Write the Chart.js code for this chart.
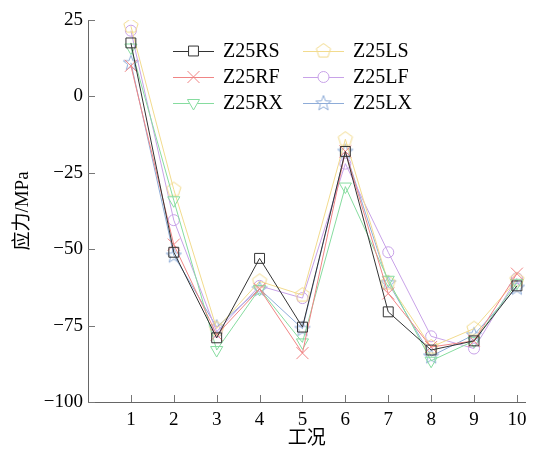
<!DOCTYPE html>
<html>
<head>
<meta charset="utf-8">
<script src="https://cdn.jsdelivr.net/npm/chart.js@4"></script>
<style>
html,body{margin:0;padding:0;background:#fff;}
#c{display:block;}
</style>
</head>
<body>
<canvas id="c" width="535" height="451"></canvas>
<script>
// ---- data ----
const conditions = [1, 2, 3, 4, 5, 6, 7, 8, 9, 10];
const seriesNames = ['Z25RS', 'Z25RF', 'Z25RX', 'Z25LS', 'Z25LF', 'Z25LX'];
const z25RS = [17.5, -51, -79, -53, -75.5, -18, -70.5, -83, -80, -62];
const z25RF = [10, -48.5, -78, -63, -84, -18, -64.5, -82, -80, -58];
const z25RX = [16, -34, -83, -63, -80.5, -29.5, -60, -86.5, -80, -61];
const z25LS = [23, -30.5, -76, -60.5, -65, -14, -61, -82, -76, -60];
const z25LF = [21.5, -40.5, -77, -62, -66, -22, -51, -78.5, -82.5, -59.5];
const z25LX = [11, -52, -75.5, -63, -76, -18, -61, -85, -78, -62.5];
const yTicks = [25, 0, -25, -50, -75, -100];
const xTitle = '工况';
const yTitle = '应力/MPa';

const SERIF = '"Liberation Serif", "Times New Roman", "Noto Sans CJK SC", serif';
const colors = ['#333333', '#f08585', '#86dc9f', '#f2db8e', '#c8a2e8', '#8eacd8'];

function makeShape(kind, color) {
  const c = document.createElement('canvas');
  c.width = 18; c.height = 18;
  const g = c.getContext('2d');
  g.strokeStyle = color; g.lineWidth = 1;
  g.beginPath();
  const cx = 9, cy = 9;
  if (kind === 'pentagon') {
    const r = 7.5;
    for (let i = 0; i < 5; i++) {
      const a = -Math.PI / 2 + i * 2 * Math.PI / 5;
      const px = cx + r * Math.cos(a), py = cy + r * Math.sin(a);
      i ? g.lineTo(px, py) : g.moveTo(px, py);
    }
  } else {
    const R = 8, r = 3.3;
    for (let i = 0; i < 10; i++) {
      const a = -Math.PI / 2 + i * Math.PI / 5;
      const rr = i % 2 ? r : R;
      const px = cx + rr * Math.cos(a), py = cy + 0.5 + rr * Math.sin(a);
      i ? g.lineTo(px, py) : g.moveTo(px, py);
    }
  }
  g.closePath();
  g.stroke();
  return c;
}

const styles = [
  {pointStyle: 'rect', radius: 7, rotation: 0},
  {pointStyle: 'crossRot', radius: 8.5, rotation: 0},
  {pointStyle: 'triangle', radius: 7, rotation: 180},
  {pointStyle: makeShape('pentagon', colors[3]), radius: 8, rotation: 0},
  {pointStyle: 'circle', radius: 5.5, rotation: 0},
  {pointStyle: makeShape('star', colors[5]), radius: 8, rotation: 0}
];
const seriesValues = [z25RS, z25RF, z25RX, z25LS, z25LF, z25LX];

const datasets = seriesNames.map((name, i) => ({
  label: name,
  data: conditions.map((x, j) => ({x: x, y: seriesValues[i][j]})),
  borderColor: colors[i],
  backgroundColor: 'rgba(0,0,0,0)',
  borderWidth: 1,
  pointStyle: styles[i].pointStyle,
  pointRadius: styles[i].radius,
  pointRotation: styles[i].rotation,
  pointBorderColor: colors[i],
  pointBackgroundColor: 'rgba(0,0,0,0)',
  pointBorderWidth: 1,
  tension: 0,
  fill: false
}));

const innerTicks = {
  id: 'innerTicks',
  afterDraw(chart) {
    const ctx = chart.ctx;
    const xs = chart.scales.x, ys = chart.scales.y;
    const a = chart.chartArea;
    ctx.save();
    ctx.strokeStyle = '#777';
    ctx.lineWidth = 1;
    ctx.beginPath();
    ys.ticks.forEach((t, i) => {
      const p = Math.round(ys.getPixelForTick(i)) + 0.5;
      ctx.moveTo(a.left, p); ctx.lineTo(a.left + 7, p);
    });
    xs.ticks.forEach((t, i) => {
      const p = Math.round(xs.getPixelForTick(i)) + 0.5;
      ctx.moveTo(p, a.bottom); ctx.lineTo(p, a.bottom - 7);
    });
    ctx.stroke();
    ctx.restore();
  }
};

const customLegend = {
  id: 'customLegend',
  afterDraw(chart) {
    const ctx = chart.ctx;
    const rows = [51, 77, 103];
    const cols = [{x0: 173, x1: 214, tx: 223}, {x0: 303, x1: 344, tx: 353}];
    ctx.save();
    chart.data.datasets.forEach((ds, i) => {
      const col = cols[Math.floor(i / 3)];
      const y = rows[i % 3];
      ctx.strokeStyle = ds.borderColor;
      ctx.lineWidth = 1;
      ctx.beginPath();
      ctx.moveTo(col.x0, y + 0.5); ctx.lineTo(col.x1, y + 0.5);
      ctx.stroke();
      ctx.fillStyle = '#fff';
      ctx.strokeStyle = ds.borderColor;
      Chart.helpers.drawPoint(ctx, {
        pointStyle: ds.pointStyle, radius: ds.pointRadius,
        rotation: ds.pointRotation, borderWidth: 1
      }, (col.x0 + col.x1) / 2, y);
      ctx.fillStyle = '#000';
      ctx.font = '20px ' + SERIF;
      ctx.textBaseline = 'middle';
      ctx.textAlign = 'left';
      ctx.fillText(ds.label, col.tx, y + 1);
    });
    ctx.restore();
  }
};

const fmt = v => (v < 0 ? '\u2212' + Math.abs(v) : String(v));

new Chart(document.getElementById('c'), {
  type: 'line',
  data: {datasets: datasets},
  plugins: [innerTicks, customLegend],
  options: {
    responsive: false,
    devicePixelRatio: 1,
    animation: false,
    layout: {padding: {top: 20, right: 9, left: 0, bottom: 0}},
    plugins: {legend: {display: false}, tooltip: {enabled: false}},
    scales: {
      x: {
        type: 'linear',
        min: 0, max: 10.2,
        afterBuildTicks: s => { s.ticks = conditions.map(v => ({value: v})); },
        afterFit: s => { s.height = 49; },
        grid: {display: false, drawTicks: false},
        border: {display: true, color: '#666', width: 1},
        ticks: {color: '#000', font: {family: SERIF, size: 19}, padding: 7, maxRotation: 0, autoSkip: false},
        title: {display: true, text: xTitle, color: '#000', font: {family: SERIF, size: 19}, padding: {top: 0, bottom: 1}}
      },
      y: {
        min: -100, max: 25,
        afterBuildTicks: s => { s.ticks = yTicks.map(v => ({value: v})); },
        afterFit: s => { s.width = 88; },
        grid: {display: false, drawTicks: false},
        border: {display: true, color: '#666', width: 1},
        ticks: {color: '#000', font: {family: SERIF, size: 19}, padding: 5, callback: v => fmt(v)},
        title: {display: true, text: yTitle, color: '#000', font: {family: SERIF, size: 19}, padding: {top: 12, bottom: 0}}
      }
    }
  }
});
</script>
</body>
</html>
